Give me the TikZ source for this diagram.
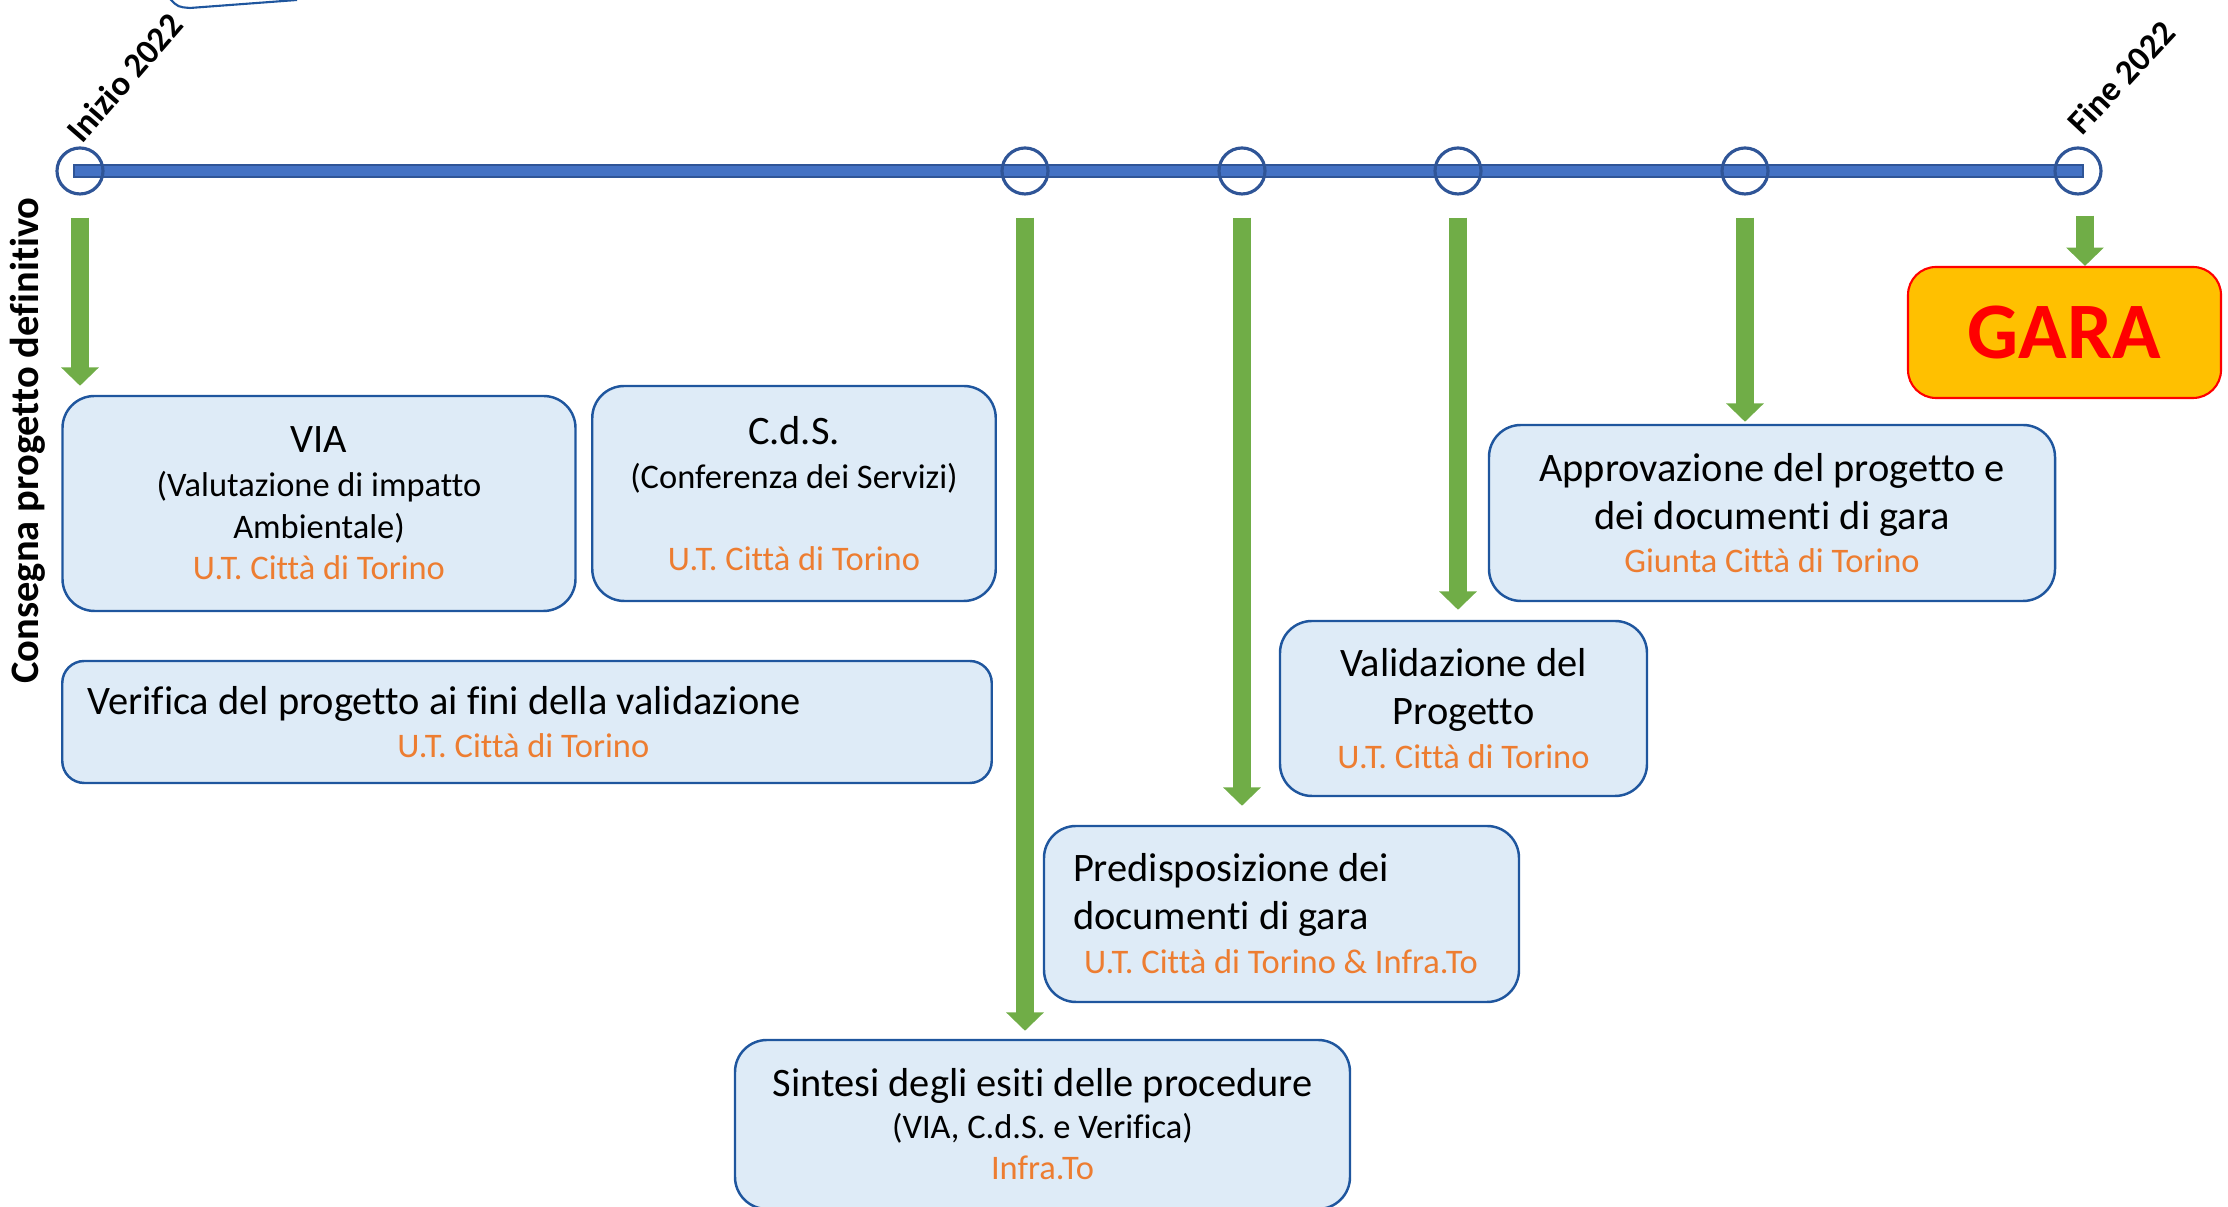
\documentclass[tikz,border=0pt]{standalone}
\usepackage{fontspec}
\setmainfont[Ligatures=NoCommon]{Carlito}
\usetikzlibrary{arrows.meta}

\definecolor{boxfill}{HTML}{DEEBF7}
\definecolor{boxline}{RGB}{31,86,158}
\definecolor{who}{HTML}{ED7D31}
\definecolor{arrowgreen}{HTML}{70AD47}
\definecolor{barblue}{HTML}{4472C4}
\definecolor{barline}{HTML}{2F5597}
\definecolor{garafill}{HTML}{FFC000}

\newcommand{\titletxt}{\fontsize{11.5}{13.7}\selectfont}
\newcommand{\subtxt}{\fontsize{9.8}{11.8}\selectfont}
\newcommand{\whotxt}{\fontsize{9.8}{11.8}\selectfont\color{who}}

\tikzset{
  stepbox/.style={draw=boxline, fill=boxfill, line width=0.7pt, rounded corners=0.32cm,
    inner sep=0pt, align=center, font=\subtxt},
  tick/.style={circle, draw=barline, line width=0.9pt, minimum size=0.46cm, inner sep=0pt},
  flow/.style={arrowgreen, line width=5pt, -{Triangle[width=10.4pt,length=5.2pt]}},
  datelbl/.style={font=\bfseries\fontsize{9.9}{12}\selectfont, inner sep=0pt},
}

\begin{document}
\begin{tikzpicture}

    % page frame of the original slide
    \useasboundingbox (0,0) rectangle (22.28,12.07);
    \clip (0,0) rectangle (22.28,12.07);

    % bit of a shape cut by the top edge
    \draw[boxline, line width=0.6pt] (1.70,12.08) .. controls (1.78,12.00) .. (1.90,11.99) -- (2.97,12.07);

    % timeline bar
    \draw[barline, fill=barblue, line width=0.6pt] (0.74,10.30) rectangle (20.83,10.42);

    % milestones on the timeline
    \node[tick] (t0) at (0.80,10.36) {};
    \node[tick] (t1) at (10.25,10.36) {};
    \node[tick] (t2) at (12.42,10.36) {};
    \node[tick] (t3) at (14.58,10.36) {};
    \node[tick] (t4) at (17.45,10.36) {};
    \node[tick] (t5) at (20.78,10.36) {};

    % dates and side label
    \node[datelbl, rotate=49, anchor=base west] (inizio) at (0.82,10.62) {Inizio 2022};
    \node[datelbl, rotate=47, anchor=base west] (fine) at (20.82,10.70) {Fine 2022};
    \node[rotate=90, anchor=base, inner sep=0pt, font=\bfseries\titletxt] (consegna) at (0.38,7.665)
        {Consegna progetto definitivo};

    % activities
    \node[stepbox, minimum width=5.13cm, minimum height=2.15cm] (via) at (3.19,7.035)
        {{\titletxt VIA}\\[0.7pt](Valutazione di impatto\\Ambientale)\\{\whotxt U.T. Città di Torino}};
    \node[stepbox, minimum width=4.035cm, minimum height=2.15cm] (cds) at (7.94,7.135)
        {{\titletxt C.d.S.}\\[0.7pt](Conferenza dei Servizi)\\[11.5pt]{\whotxt U.T. Città di Torino}};
    \node[stepbox, rounded corners=0.22cm, minimum width=9.295cm, minimum height=1.22cm] (verifica) at (5.27,4.85)
        {\makebox[8.795cm][l]{\titletxt Verifica del progetto ai fini della validazione}\\[0.5pt]
         \makebox[8.795cm][l]{\hspace*{3.1cm}\whotxt U.T. Città di Torino}};
    \node[stepbox, minimum width=6.15cm, minimum height=1.69cm] (sintesi) at (10.425,0.825)
        {{\titletxt Sintesi degli esiti delle procedure}\\(VIA, C.d.S. e Verifica)\\{\whotxt Infra.To}};
    \node[stepbox, minimum width=4.75cm, minimum height=1.76cm] (predisp) at (12.815,2.93)
        {\makebox[4.17cm][l]{\titletxt Predisposizione dei}\\[1.9pt]
         \makebox[4.17cm][l]{\titletxt documenti di gara}\\[0.7pt]
         \makebox[4.17cm][l]{\hspace*{0.11cm}\whotxt U.T. Città di Torino \& Infra.To}};
    \node[stepbox, minimum width=3.67cm, minimum height=1.75cm] (valid) at (14.635,4.985)
        {{\titletxt Validazione del}\\[1.9pt]{\titletxt Progetto}\\[0.7pt]{\whotxt U.T. Città di Torino}};
    \node[stepbox, minimum width=5.66cm, minimum height=1.76cm] (approv) at (17.72,6.94)
        {{\titletxt Approvazione del progetto e}\\[1.9pt]{\titletxt dei documenti di gara}\\[0.2pt]{\whotxt Giunta Città di Torino}};
    \node[draw=red, fill=garafill, line width=0.6pt, rounded corners=0.28cm, minimum width=3.13cm,
        minimum height=1.31cm, text=red, font=\bfseries\fontsize{22.8}{26}\selectfont] (gara) at (20.645,8.745) {GARA};

    % arrows from the milestones
    \draw[flow, shorten >=0.09cm] ([yshift=-0.22cm]t0.south) -- (t0 |- via.north);
    \draw[flow, shorten >=0.08cm] ([yshift=-0.22cm]t1.south) -- (t1 |- sintesi.north);
    \draw[flow, shorten >=0.19cm] ([yshift=-0.22cm]t2.south) -- (t2 |- predisp.north);
    \draw[flow, shorten >=0.10cm] ([yshift=-0.22cm]t3.south) -- (t3 |- valid.north);
    \draw[flow, shorten >=0.02cm] ([yshift=-0.22cm]t4.south) -- (t4 |- approv.north);
    \draw[flow] ([xshift=0.07cm,yshift=-0.2cm]t5.south) -- ([xshift=0.07cm]t5 |- gara.north);

\end{tikzpicture}
\end{document}
